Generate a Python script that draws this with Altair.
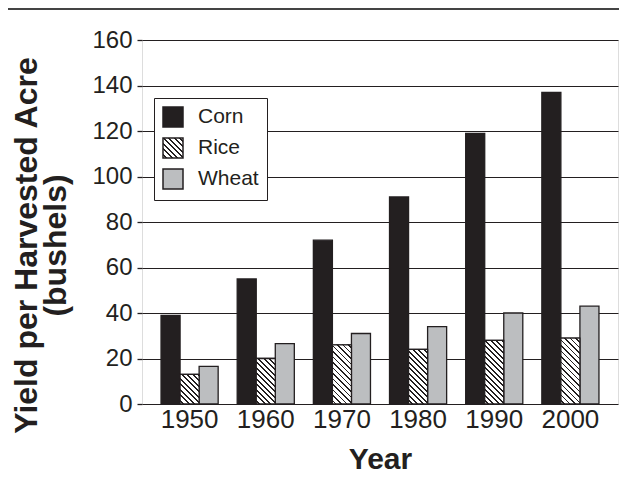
import json
import altair as alt

# ---- data ----
years = ["1950", "1960", "1970", "1980", "1990", "2000"]
crops = ["Corn", "Rice", "Wheat"]
corn = [39, 55, 72, 91, 119, 137]
rice = [13, 20, 26, 24, 28, 29]
wheat = [16.5, 26.5, 31, 34, 40, 43]
y_ticks = [0, 20, 40, 60, 80, 100, 120, 140, 160]

INK = "#231f20"
GRAY = "#bcbec0"
FONT = "Liberation Sans"

PLOT_W, PLOT_H = 476, 364
Y_MAX = 160
PAD_IN, PAD_OUT = 0.25, 0.25


def hatch(w, h, period=5.5, line=1.8):
    """Diagonal '\\' hatch as a linear gradient in the bar's bounding box."""
    total = w + h
    stops = [{"offset": 0, "color": "white"}]
    s = period / 2
    while s < total:
        a = round(s / total, 5)
        b = round(min(s + line, total) / total, 5)
        stops += [
            {"offset": a, "color": "white"},
            {"offset": a, "color": INK},
            {"offset": b, "color": INK},
            {"offset": b, "color": "white"},
        ]
        s += period
    stops.append({"offset": 1, "color": "white"})
    k = w * (w + h) / (w * w + h * h)
    return {"gradient": "linear", "x1": 0, "y1": 1,
            "x2": round(k, 5), "y2": round(1 - k * h / w, 5), "stops": stops}


step = PLOT_W / (len(years) - PAD_IN + 2 * PAD_OUT)
bar_w = step * (1 - PAD_IN) / len(crops)
px_per_unit = PLOT_H / Y_MAX

records = []
for i, yr in enumerate(years):
    for crop, vals in zip(crops, [corn, rice, wheat]):
        v = vals[i]
        rec = {"year": yr, "crop": crop, "value": v}
        if crop == "Rice":
            rec["grad"] = hatch(bar_w, v * px_per_unit)
        records.append(rec)

data = alt.Data(values=records)
legend_grad = alt.ExprRef(expr=json.dumps(hatch(20, 20)))

x_enc = alt.X(
    "year:N",
    sort=years,
    scale=alt.Scale(paddingInner=PAD_IN, paddingOuter=PAD_OUT),
    axis=alt.Axis(
        title="Year", labelAngle=0, ticks=False, tickSize=0, domain=False,
        labelFontSize=26, labelColor=INK, labelFont=FONT, labelPadding=2,
        titleFontSize=30, titleFontWeight="bold", titleColor=INK, titleFont=FONT,
        titleBaseline="alphabetic", titleY=64, titleX=PLOT_W / 2, titleAlign="center",
    ),
)
xoff_enc = alt.XOffset("crop:N", sort=crops, scale=alt.Scale(domain=crops))
y_enc = alt.Y(
    "value:Q",
    stack=None,
    scale=alt.Scale(domain=[0, Y_MAX], nice=False),
    axis=alt.Axis(
        title=["Yield per Harvested Acre", "(bushels)"],
        values=y_ticks, domain=False, ticks=True, tickSize=5, tickColor=INK, tickWidth=1.3,
        grid=True, gridColor=INK, gridWidth=1.2, gridOpacity=1,
        labelFontSize=24, labelColor=INK, labelFont=FONT, labelPadding=5,
        titleFontSize=32, titleFontWeight="bold", titleColor=INK, titleFont=FONT,
        titleAngle=270, titleBaseline="alphabetic", titleAlign="center",
        titleX=-106, titleY=205, titleLineHeight=29,
    ),
)

bars = alt.Chart(data).mark_bar(stroke=INK, strokeWidth=1.3).encode(
    x=x_enc,
    xOffset=xoff_enc,
    y=y_enc,
    fill=alt.Fill(
        "crop:N",
        scale=alt.Scale(domain=crops, range=[INK, legend_grad, GRAY]),
        legend=alt.Legend(
            title=None, orient="none", legendX=12, legendY=58,
            fillColor="white", strokeColor=INK, padding=8, rowPadding=5,
            symbolType="square", symbolSize=400, symbolStrokeColor=INK,
            symbolStrokeWidth=1.5, symbolOpacity=1,
            labelFontSize=21, labelFont=FONT, labelColor=INK, labelOffset=14,
        ),
    ),
)

rice_hatch = alt.Chart(data).transform_filter(
    alt.datum.crop == "Rice"
).mark_bar(stroke=INK, strokeWidth=1.3).encode(
    x=alt.X("year:N", sort=years),
    xOffset=xoff_enc,
    y=alt.Y("value:Q", stack=None),
    color=alt.Color("grad:N", scale=None),
)

top_line = alt.Chart(alt.Data(values=[{"k": 1}])).mark_rule(
    color="#444444", strokeWidth=2
).encode(x=alt.value(-134), x2=alt.value(PLOT_W + 1), y=alt.value(-31))

chart = alt.layer(bars, rice_hatch, top_line).properties(
    width=PLOT_W,
    height=PLOT_H,
    autosize=alt.AutoSizeParams(type="none"),
    padding={"left": 134, "top": 32, "right": 1, "bottom": 84},
).configure_view(
    stroke=INK, strokeWidth=2.8
).configure_legend(
    strokeWidth=1.8
).configure(font=FONT, background="white")

chart.save("out.html", embed_options={"renderer": "svg", "actions": False})
